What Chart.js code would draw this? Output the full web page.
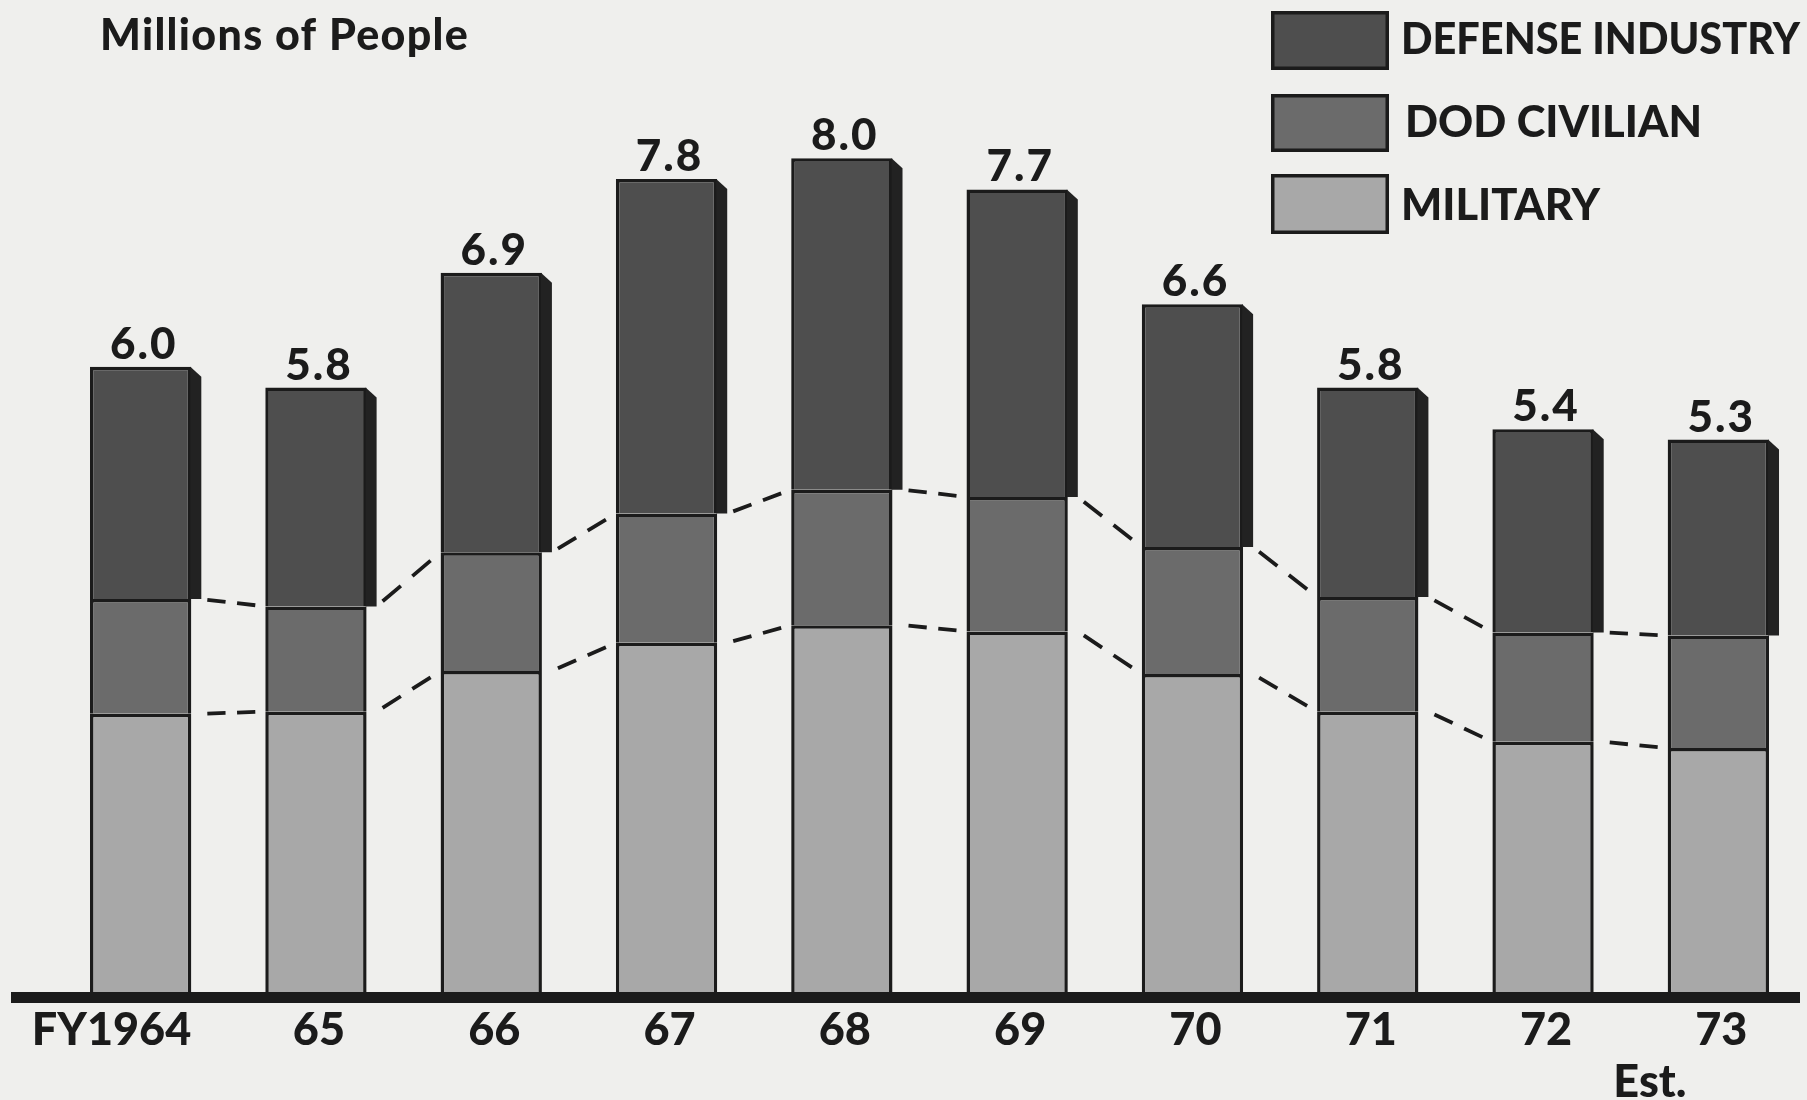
<!DOCTYPE html>
<html>
<head>
<meta charset="utf-8">
<title>Defense-related employment</title>
<script src="https://cdn.jsdelivr.net/npm/chart.js@4.4.1/dist/chart.umd.min.js"></script>
<style>
  html, body { margin: 0; padding: 0; background: #efefed; }
  canvas { display: block; }
</style>
</head>
<body>
<canvas id="chart" width="1807" height="1100"></canvas>
<script>
// Fiscal years on the category axis
const years = ['FY1964', '65', '66', '67', '68', '69', '70', '71', '72', '73'];
// Total defense-related employment, millions of people (stated above each bar)
const totals = [6.0, 5.8, 6.9, 7.8, 8.0, 7.7, 6.6, 5.8, 5.4, 5.3];
// Components, millions of people
const military        = [2.67, 2.69, 3.08, 3.35, 3.52, 3.46, 3.05, 2.69, 2.40, 2.34];
const dodCivilian     = [1.10, 1.01, 1.14, 1.24, 1.30, 1.29, 1.22, 1.10, 1.05, 1.08];
const defenseIndustry = [2.23, 2.10, 2.68, 3.21, 3.18, 2.95, 2.33, 2.01, 1.95, 1.88];
// Series names, top to bottom as listed in the key
const seriesNames = ['DEFENSE INDUSTRY', 'DOD CIVILIAN', 'MILITARY'];
const unitLabel = 'Millions of People';
const estimateNote = 'Est.';

const INK = '#1b1b1b';
const FONT = 'Lato, "Open Sans", "DejaVu Sans", sans-serif';
const COLORS = { industry: '#4e4e4e', civilian: '#6b6b6b', military: '#a8a8a8', side: '#222222' };
const DEPTH = 10;

function boldFont(px) { return '900 ' + px + 'px ' + FONT; }

const decorations = {
  id: 'decorations',
  beforeDraw(chart) {
    const ctx = chart.ctx;
    ctx.save();
    ctx.fillStyle = '#efefed';
    ctx.fillRect(0, 0, chart.width, chart.height);
    ctx.restore();
  },
  afterDatasetsDraw(chart) {
    const ctx = chart.ctx;
    const area = chart.chartArea;
    const topMeta = chart.getDatasetMeta(2).data;
    const n = topMeta.length;

    ctx.save();
    // Shaded right-hand side of each column
    ctx.fillStyle = COLORS.side;
    topMeta.forEach(el => {
      const xr = el.x + el.width / 2;
      ctx.beginPath();
      ctx.moveTo(xr - 1, el.y);
      ctx.lineTo(xr + DEPTH, el.y + DEPTH);
      ctx.lineTo(xr + DEPTH, el.base);
      ctx.lineTo(xr - 1, el.base);
      ctx.closePath();
      ctx.fill();
    });

    // Dashed connectors between segment boundaries of neighbouring columns
    ctx.strokeStyle = INK;
    ctx.lineWidth = 3.8;
    [0, 1].forEach(k => {
      const seg = chart.getDatasetMeta(k).data;
      for (let i = 0; i < n - 1; i++) {
        const a = seg[i], b = seg[i + 1];
        const x0 = a.x + a.width / 2 + DEPTH, y0 = a.y;
        const x1 = b.x - b.width / 2, y1 = b.y;
        const dx = x1 - x0;
        const t0 = 6 / dx, t1 = 1 - 10 / dx;
        const sx = x0 + dx * t0, sy = y0 + (y1 - y0) * t0;
        const ex = x0 + dx * t1, ey = y0 + (y1 - y0) * t1;
        const len = Math.hypot(ex - sx, ey - sy);
        ctx.setLineDash([len * 0.38, len * 0.24, len * 0.38, 100]);
        ctx.beginPath();
        ctx.moveTo(sx, sy);
        ctx.lineTo(ex, ey);
        ctx.stroke();
      }
    });
    ctx.setLineDash([]);

    // Heavy base line
    ctx.fillStyle = INK;
    ctx.fillRect(11, area.bottom, 1789, 11);

    // Totals above columns
    ctx.fillStyle = INK;
    ctx.font = boldFont(44);
    ctx.letterSpacing = '2px';
    ctx.textAlign = 'center';
    ctx.textBaseline = 'alphabetic';
    topMeta.forEach((el, i) => {
      ctx.fillText(totals[i].toFixed(1), el.x + 3, el.y - 8);
    });
    ctx.letterSpacing = '0px';

    // Year labels
    const xs = chart.scales.x;
    ctx.font = boldFont(45);
    years.forEach((y, i) => {
      const el = topMeta[i];
      if (i === 0) {
        ctx.textAlign = 'right';
        ctx.fillText(y, el.x + el.width / 2, area.bottom + 53);
      } else {
        ctx.textAlign = 'center';
        ctx.fillText(y, xs.getPixelForValue(i) + 3, area.bottom + 53);
      }
    });
    ctx.textAlign = 'left';
    ctx.fillText(estimateNote, xs.getPixelForValue(n - 1) - 105, area.bottom + 105);

    // Unit caption
    ctx.font = boldFont(43);
    ctx.letterSpacing = '1.3px';
    ctx.fillText(unitLabel, 100, 50);
    ctx.letterSpacing = '0px';

    // Key
    ctx.font = boldFont(44);
    const boxes = [[11, 59], [94, 58], [174, 60]];
    const fills = [COLORS.industry, COLORS.civilian, COLORS.military];
    const baselines = [54, 137, 220];
    const widths = [399, 297, 199];
    const starts = [1401, 1405, 1401];
    seriesNames.forEach((name, i) => {
      const [by, bh] = boxes[i];
      ctx.fillStyle = INK;
      ctx.fillRect(1271, by, 118, bh);
      ctx.fillStyle = fills[i];
      ctx.fillRect(1274.5, by + 3.5, 111, bh - 7);
      ctx.fillStyle = INK;
      ctx.fillText(name, starts[i], baselines[i], widths[i]);
    });
    ctx.restore();
  }
};

new Chart(document.getElementById('chart'), {
  type: 'bar',
  data: {
    labels: years,
    datasets: [
      { label: 'MILITARY', data: military, backgroundColor: COLORS.military },
      { label: 'DOD CIVILIAN', data: dodCivilian, backgroundColor: COLORS.civilian },
      { label: 'DEFENSE INDUSTRY', data: defenseIndustry, backgroundColor: COLORS.industry }
    ]
  },
  options: {
    responsive: false,
    devicePixelRatio: 1,
    animation: false,
    layout: { padding: { left: 53, right: 1, top: 54, bottom: 108 } },
    datasets: {
      bar: {
        categoryPercentage: 1.0,
        barPercentage: 0.578,
        borderColor: INK,
        borderWidth: 3.5,
        borderSkipped: 'start'
      }
    },
    scales: {
      x: { stacked: true, display: false, offset: true },
      y: { stacked: true, display: false, min: 0, max: 9 }
    },
    plugins: {
      legend: { display: false },
      tooltip: { enabled: false },
      title: { display: false }
    }
  },
  plugins: [decorations]
});
</script>
</body>
</html>
